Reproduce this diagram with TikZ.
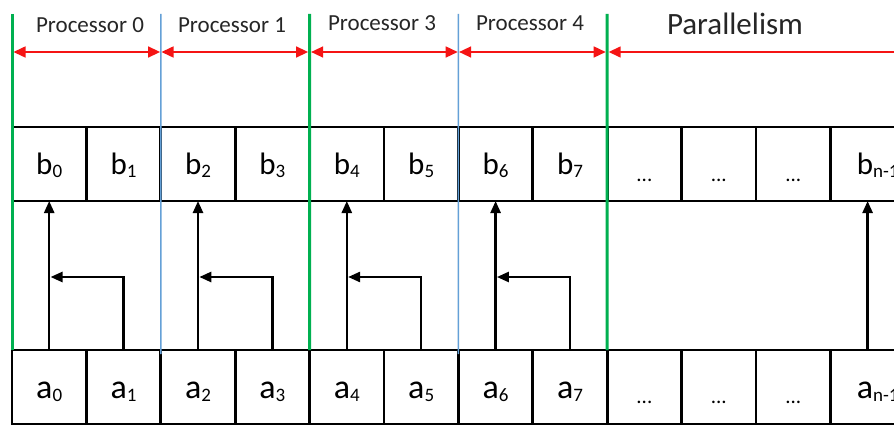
\documentclass[tikz,border=0pt]{standalone}
\usepackage{fontspec}
\setmainfont{Carlito}
\usetikzlibrary{arrows.meta,calc}
\definecolor{arrred}{RGB}{245,20,20}
\definecolor{sepgreen}{RGB}{0,176,80}
\definecolor{sepblue}{RGB}{100,160,215}
\newcommand\cellb[2]{#1\raisebox{-0.1em}{\fontsize{19}{19}\selectfont #2}}
\begin{document}
\begin{tikzpicture}[x=1pt,y=-1pt,
  cell/.style={draw=black, line width=2.8pt, minimum width=74.4pt, minimum height=74pt,
    inner sep=0pt, outer sep=0pt, anchor=north west},
  btext/.style={anchor=base, inner sep=0pt, font=\fontsize{31}{31}\selectfont},
  atext/.style={anchor=base, inner sep=0pt, font=\fontsize{34}{34}\selectfont},
  dtext/.style={anchor=base, inner sep=0pt, font=\fontsize{21}{21}\selectfont},
  plabel/.style={anchor=base, inner sep=0pt, font=\fontsize{23}{23}\selectfont, text=black!85},
  biglabel/.style={anchor=base, inner sep=0pt, font=\fontsize{31}{31}\selectfont, text=black!85},
  greensep/.style={draw=sepgreen, line width=3pt},
  bluesep/.style={draw=sepblue, line width=1.4pt},
  span/.style={draw=arrred, line width=1.5pt, {Triangle[length=12pt,width=11pt]}-{Triangle[length=12pt,width=11pt]}},
  spanone/.style={draw=arrred, line width=1.5pt, {Triangle[length=12pt,width=11pt]}-},
  flow/.style={draw=black, line width=2.5pt, -{Triangle[length=12pt,width=10pt]}}
]
\useasboundingbox (0,0) rectangle (894,425);
\clip (0,0) rectangle (894,425);
\fill[white] (0,0) rectangle (894,425);

% cells
\foreach \i in {0,...,11} {
  \node[cell] (b\i) at (12+74.4*\i,127) {};
  \node[cell] (a\i) at (12+74.4*\i,350) {};
}

% cell texts
\foreach \i in {0,...,7} {
  \node[btext] (tb\i) at ($(b\i.north)+(0,47)$) {\cellb{b}{\i}};
  \node[atext] (ta\i) at ($(a\i.north)+(0,48)$) {\cellb{a}{\i}};
}
\foreach \i in {8,9,10} {
  \node[dtext] (tb\i) at ($(b\i.north)+(0,54)$) {...};
  \node[dtext] (ta\i) at ($(a\i.north)+(0,53)$) {...};
}
\node[btext, anchor=base west] (tb11) at ($(b11.north)+(-11,47)$) {\cellb{b}{n-1}};
\node[atext, anchor=base west] (ta11) at ($(a11.north)+(-11,48)$) {\cellb{a}{n-1}};

% separators
\coordinate (s0) at (12,14);
\coordinate (s1) at (160.8,14);
\coordinate (s2) at (309.6,14);
\coordinate (s3) at (458.4,14);
\coordinate (s4) at (607.2,14);
\coordinate (se) at (900,52);
\draw[greensep] (s0) -- (a0.north west);
\draw[bluesep] (s1) -- ($(a2.north west)+(0,4)$);
\draw[greensep] (s2) -- (a4.north west);
\draw[bluesep] (s3) -- ($(a6.north west)+(0,4)$);
\draw[greensep] (s4) -- (a8.north west);

% red spans
\draw[span] ($(s0)+(1.5,38)$) -- ($(s1)+(-0.7,38)$);
\draw[span] ($(s1)+(0.7,38)$) -- ($(s2)+(-1.5,38)$);
\draw[span] ($(s2)+(1.5,38)$) -- ($(s3)+(-0.7,38)$);
\draw[span] ($(s3)+(0.7,38)$) -- ($(s4)+(-1.5,38)$);
\draw[spanone] ($(s4)+(1.5,38)$) -- (se);

% labels
\node[plabel] (p0) at (90,33) {Processor 0};
\node[plabel] (p1) at (232,33) {Processor 1};
\node[plabel] (p3) at (382,31) {Processor 3};
\node[plabel] (p4) at (530,31) {Processor 4};
\node[biglabel] (pp) at (735,35) {Parallelism};

% data flow arrows
\foreach \e/\o in {0/1,2/3,4/5,6/7} {
  \draw[flow] (a\e.north) -- (b\e.south);
  \draw[flow] (a\o.north) |- ($(a\e.north |- 0,277)+(1.3,0)$);
}
\draw[flow] (a11.north) -- (b11.south);
\end{tikzpicture}
\end{document}
